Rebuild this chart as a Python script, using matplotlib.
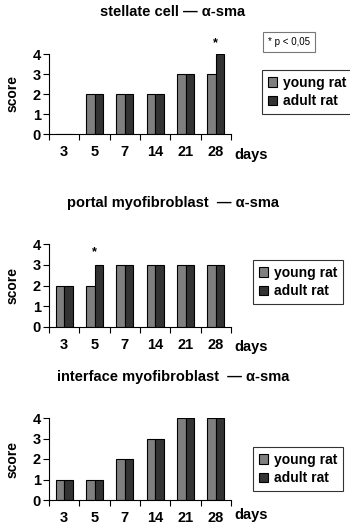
import numpy as np
import matplotlib
matplotlib.use("Agg")
import matplotlib.pyplot as plt
from matplotlib.patches import Patch

plt.rcParams['font.family'] = ['Liberation Sans', 'DejaVu Sans']
plt.rcParams['font.weight'] = 'bold'

days = ['3', '5', '7', '14', '21', '28']
titles = ['stellate cell \u2014 \u03b1-sma',
          'portal myofibroblast  \u2014 \u03b1-sma',
          'interface myofibroblast  \u2014 \u03b1-sma']
young = [[0, 2, 2, 2, 3, 3],
         [2, 2, 3, 3, 3, 3],
         [1, 1, 2, 3, 4, 4]]
adult = [[0, 2, 2, 2, 3, 4],
         [2, 3, 3, 3, 3, 3],
         [1, 1, 2, 3, 4, 4]]
# significant points: (panel, day index, y of star)
stars = [(0, 5, 4.55), (1, 1, 3.6)]

young_col = '#7f7f7f'
adult_col = '#333333'

W, H = 350, 524
fig = plt.figure(figsize=(3.5, 5.24), dpi=100)

# pixel layout: (y of value 4, y of value 0, title y, legend box top, legend left, days y)
layout = [(54, 134, 12, 70, 262, 155),
          (244, 327, 203, 260, 253, 347),
          (418, 500, 377, 447, 253, 515)]
x0, x1 = 49, 231

for i in range(3):
    ytop, ybot, ty, lt, ll, dy = layout[i]
    ax = fig.add_axes([x0 / W, (H - ybot) / H, (x1 - x0) / W, (ybot - ytop) / H])
    x = np.arange(len(days)) + 0.5
    w = 0.28
    ax.bar(x - w / 2, young[i], w, color=young_col, edgecolor='black', linewidth=0.8)
    ax.bar(x + w / 2, adult[i], w, color=adult_col, edgecolor='black', linewidth=0.8)
    ax.set_xlim(0, len(days))
    ax.set_ylim(0, 4)
    ax.set_yticks(range(5))
    ax.set_yticklabels([str(v) for v in range(5)], fontsize=10.5, fontweight='bold')
    ax.set_xticks(np.arange(len(days) + 1))
    ax.set_xticklabels([])
    ax.set_xticks(x, minor=True)
    ax.set_xticklabels(days, minor=True, fontsize=10.5, fontweight='bold')
    ax.tick_params(axis='x', which='major', direction='out', length=4, width=0.8)
    ax.tick_params(axis='x', which='minor', length=0, pad=8)
    ax.tick_params(axis='y', direction='out', length=4, width=0.8, pad=2)
    for s in ['top', 'right']:
        ax.spines[s].set_visible(False)
    ax.spines['left'].set_linewidth(0.8)
    ax.spines['bottom'].set_linewidth(0.8)
    ax.set_ylabel('score', fontsize=10, fontweight='bold', labelpad=9)
    fig.text(173 / W, 1 - ty / H, titles[i], ha='center', va='center',
             fontsize=10.5, fontweight='bold')
    fig.text(234 / W, 1 - dy / H, 'days', ha='left', va='center',
             fontsize=10.5, fontweight='bold')
    handles = [Patch(facecolor=young_col, edgecolor='black', linewidth=0.8),
               Patch(facecolor=adult_col, edgecolor='black', linewidth=0.8)]
    leg = fig.legend(handles, ['young rat', 'adult rat'],
                     loc='upper left', bbox_to_anchor=(ll / W, 1 - lt / H),
                     frameon=True, fancybox=False, edgecolor='black',
                     prop={'size': 10, 'weight': 'bold'},
                     handlelength=0.7, handleheight=0.7, handletextpad=0.4,
                     borderpad=0.4, labelspacing=0.35, borderaxespad=0)
    leg.get_frame().set_linewidth(0.8)

for p, d, yv in stars:
    fig.axes[p].text(d + 0.5, yv, '*', ha='center', va='center',
                     fontsize=9, fontweight='bold', clip_on=False)

fig.text(268 / W, 1 - 42 / H, '* p < 0,05', ha='left', va='center', fontsize=7,
         fontweight='normal',
         bbox=dict(boxstyle='square,pad=0.5', facecolor='white', edgecolor='#777777', linewidth=0.8))

fig.savefig('out.png', dpi=100)
